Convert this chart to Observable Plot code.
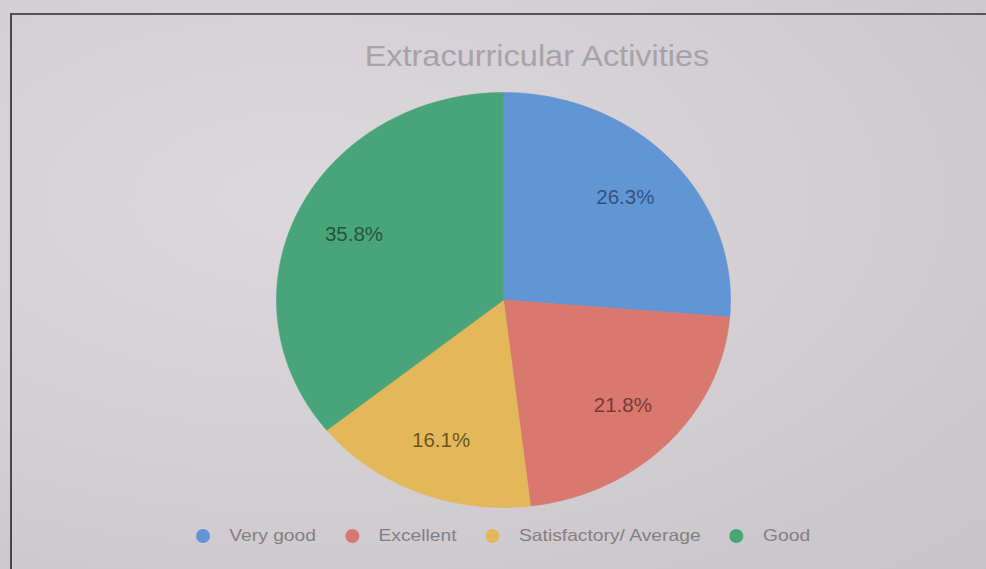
<!DOCTYPE html>
<html>
<head>
<meta charset="utf-8">
<script src="https://cdn.jsdelivr.net/npm/d3@7"></script>
<script src="https://cdn.jsdelivr.net/npm/@observablehq/plot@0.6"></script>
<style>
  html, body { margin: 0; padding: 0; }
  body {
    width: 986px; height: 569px; overflow: hidden; position: relative;
    background: radial-gradient(ellipse at 30% 35%, #dcd8db 0%, #d2ced1 55%, #c7c3c7 100%);
    font-family: Arial, "Liberation Sans", sans-serif;
  }
  #card {
    position: absolute; left: 10px; top: 13px; width: 990px; height: 570px;
    border-left: 2px solid #4a474b; border-top: 2px solid #55525a;
    box-sizing: border-box;
  }
  #chart { position: absolute; left: 0; top: 0; }
  #title {
    position: absolute; left: 0; width: 986px; top: 40px; text-align: center;
    font-size: 29px; color: #a7a3a8; transform: translateX(44px) scaleX(1.12);
    transform-origin: 493px 0;
  }
  #legend {
    position: absolute; left: 196px; top: 526px; display: flex; align-items: center;
    font-size: 16.5px; color: #837f86; transform: scaleX(1.167); transform-origin: 0 0;
    white-space: nowrap;
  }
  .item { display: flex; align-items: center; margin-right: 25px; }
  .sw { width: 12px; height: 14px; border-radius: 50%; margin-right: 16.5px; }
</style>
</head>
<body>
<div id="card"></div>
<div id="chart"></div>
<div id="title">Extracurricular Activities</div>
<div id="legend"></div>
<script>
// Data
const categories = ["Very good", "Excellent", "Satisfactory/ Average", "Good"];
const percents = [26.3, 21.8, 16.1, 35.8];
const colors = ["#6195d3", "#d8786f", "#e2b85a", "#4aa47a"];
const labelColors = ["#2c4570", "#6a2c2a", "#56411a", "#1d4631"];

// Slice geometry (angles clockwise from top) via d3.pie
const pie = d3.pie().sort(null).value(d => d.value)(
  categories.map((c, i) => ({ category: c, value: percents[i] }))
);

const slicePts = [];
pie.forEach(p => {
  const cat = p.data.category;
  slicePts.push({ category: cat, x: 0, y: 0 });
  const n = Math.max(8, Math.ceil((p.endAngle - p.startAngle) / 0.01));
  for (let k = 0; k <= n; k++) {
    const a = p.startAngle + (p.endAngle - p.startAngle) * k / n;
    slicePts.push({ category: cat, x: Math.sin(a), y: Math.cos(a) });
  }
  slicePts.push({ category: cat, x: 0, y: 0 });
});

const labelR = 0.73;
const labels = pie.map((p, i) => {
  const a = (p.startAngle + p.endAngle) / 2;
  return {
    category: p.data.category,
    text: p.data.value.toFixed(1) + "%",
    x: labelR * Math.sin(a),
    y: labelR * Math.cos(a),
    color: labelColors[i]
  };
});

const chart = Plot.plot({
  width: 986,
  height: 569,
  margin: 0,
  style: { background: "transparent", overflow: "visible" },
  x: { domain: [-1, 1], range: [276, 730], axis: null },
  y: { domain: [-1, 1], range: [507, 92], axis: null },
  color: { domain: categories, range: colors },
  marks: [
    Plot.line(slicePts, {
      x: "x", y: "y", z: "category",
      fill: "category", stroke: "category", strokeWidth: 0.6,
      curve: "linear"
    }),
    Plot.text(labels, {
      x: "x", y: "y", text: "text", fill: d => d.color,
      fontSize: 20.5, fontFamily: "Arial, 'Liberation Sans', sans-serif",
      fillOpacity: 0.85
    })
  ]
});
document.getElementById("chart").appendChild(chart);

// Legend
const legend = document.getElementById("legend");
categories.forEach((c, i) => {
  const it = document.createElement("div");
  it.className = "item";
  const sw = document.createElement("div");
  sw.className = "sw";
  sw.style.background = colors[i];
  const t = document.createElement("span");
  t.textContent = c;
  it.appendChild(sw); it.appendChild(t);
  legend.appendChild(it);
});
</script>
</body>
</html>
